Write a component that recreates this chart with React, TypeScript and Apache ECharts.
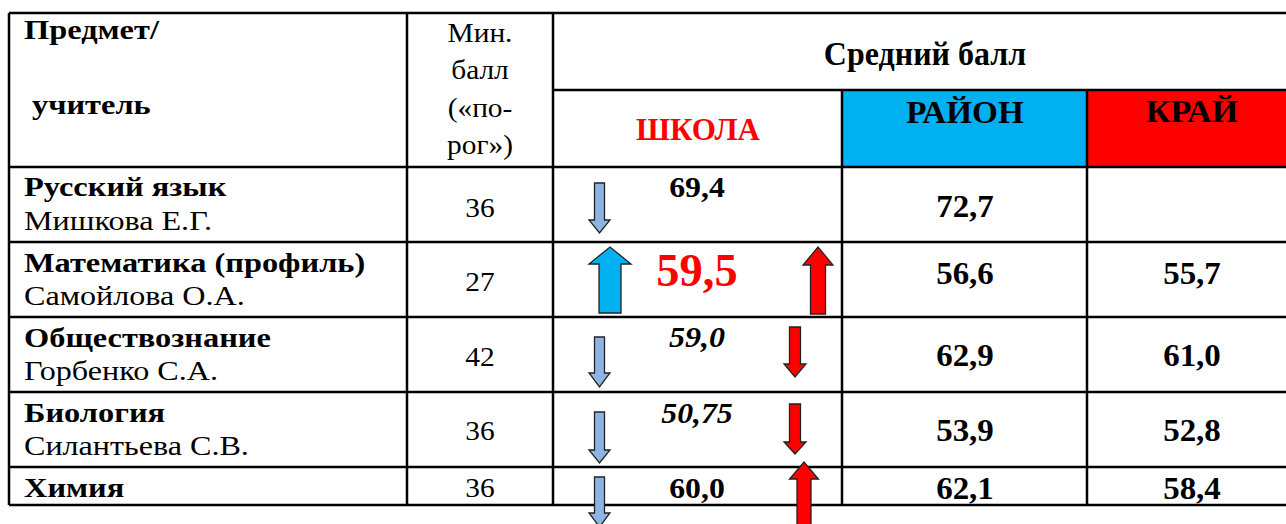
import React, { useEffect, useRef } from "react";
import * as echarts from "echarts";

// ---------- data ----------
const subjects = ["Русский язык", "Математика (профиль)", "Обществознание", "Биология", "Химия"];
const teachers = ["Мишкова Е.Г.", "Самойлова О.А.", "Горбенко С.А.", "Силантьева С.В.", ""];
const minScores = [36, 27, 42, 36, 36];
const schoolScores = [69.4, 59.5, 59.0, 50.75, 60.0];
const rayonScores = [72.7, 56.6, 62.9, 53.9, 62.1];
const kraiScores: (number | null)[] = [null, 55.7, 61.0, 52.8, 58.4];
const headerSubject = ["Предмет/", "учитель"];
const headerMin = ["Мин.", "балл", "(«по-", "рог»)"];
const headerAvg = "Средний балл";
const headerLevels = ["ШКОЛА", "РАЙОН", "КРАЙ"];

// ---------- layout ----------
const FONT = "Liberation Serif";
const colX = [9, 407, 553, 842, 1087, 1297];
const headTop = 13;
const headMid = 90;
const rowY = [167, 242, 317, 392, 467, 505];
const subjY = [186, 262, 337, 412, 487];
const teachY = [221, 296, 371, 446, 0];
const minY = [207, 281, 356, 430, 487];
const schoolY = [187, 271, 337, 413, 488];
const regionY = [206, 273, 355, 430, 488];
const schoolStyle = [
  { size: 30, bold: true, italic: false, fill: "#000", sx: 1.06 },
  { size: 46, bold: true, italic: false, fill: "#ff0000", sx: 1.01 },
  { size: 30, bold: true, italic: true, fill: "#000", sx: 1.07 },
  { size: 30, bold: true, italic: true, fill: "#000", sx: 1.06 },
  { size: 30, bold: true, italic: false, fill: "#000", sx: 1.06 },
];
// arrows vs район (left) : cx, tail, headBase, tip, shaftW, headW, fill
const rayonArrow = [
  { cx: 599.5, tail: 183, base: 220, tip: 233, sw: 10, hw: 21, fill: "#8eb4e3" },
  { cx: 610, tail: 313, base: 264, tip: 247, sw: 22, hw: 42, fill: "#00b0f0" },
  { cx: 599.5, tail: 337, base: 373, tip: 387, sw: 10, hw: 21, fill: "#8eb4e3" },
  { cx: 599.5, tail: 412, base: 450, tip: 463, sw: 10, hw: 21, fill: "#8eb4e3" },
  { cx: 599.5, tail: 477, base: 513, tip: 527, sw: 10, hw: 21, fill: "#8eb4e3" },
];
const kraiArrow = [
  null,
  { cx: 818, tail: 314, base: 265, tip: 247, sw: 15, hw: 30, fill: "#ff0000" },
  { cx: 795, tail: 327, base: 364, tip: 377, sw: 11, hw: 22, fill: "#ff0000" },
  { cx: 795, tail: 404, base: 442, tip: 454, sw: 11, hw: 22, fill: "#ff0000" },
  { cx: 804, tail: 545, base: 479, tip: 462, sw: 14, hw: 29, fill: "#ff0000" },
];

const fmt = (v: number) => (Math.round(v * 10) === v * 10 ? v.toFixed(1) : v.toFixed(2)).replace(".", ",");

function txt(text: string, x: number, y: number, o: any = {}) {
  const style: any = {
    text,
    fill: o.fill ?? "#000",
    fontFamily: FONT,
    fontSize: o.size ?? 27,
    align: o.align ?? "center",
    verticalAlign: "middle",
  };
  if (o.bold) style.fontWeight = "bold";
  if (o.italic) style.fontStyle = "italic";
  const el: any = { type: "text", x, y, z: 10, style };
  if (o.sx) el.scaleX = o.sx;
  return el;
}

function line(x1: number, y1: number, x2: number, y2: number) {
  return { type: "line", z: 5, silent: true, shape: { x1, y1, x2, y2 }, style: { stroke: "#000", lineWidth: 2.5 } };
}

function arrow(a: any) {
  const h = a.sw / 2;
  const H = a.hw / 2;
  const pts = [
    [a.cx - h, a.tail],
    [a.cx - h, a.base],
    [a.cx - H, a.base],
    [a.cx, a.tip],
    [a.cx + H, a.base],
    [a.cx + h, a.base],
    [a.cx + h, a.tail],
  ];
  return { type: "polygon", z: 8, silent: true, shape: { points: pts }, style: { fill: a.fill, stroke: "#222", lineWidth: 1.3 } };
}

export default function App() {
  const ref = useRef<HTMLDivElement>(null);
  useEffect(() => {
    document.body.style.margin = "0";
    const chart = echarts.init(ref.current!, null, { renderer: "svg" });
    const els: any[] = [];
    els.push({ type: "rect", z: 1, shape: { x: colX[3], y: headMid, width: colX[4] - colX[3], height: rowY[0] - headMid }, style: { fill: "#00b0f0" } });
    els.push({ type: "rect", z: 1, shape: { x: colX[4], y: headMid, width: colX[5] - colX[4], height: rowY[0] - headMid }, style: { fill: "#ff0000" } });
    const bottom = rowY[rowY.length - 1];
    els.push(line(colX[0], headTop, colX[5], headTop));
    els.push(line(colX[0], headTop, colX[0], bottom));
    els.push(line(colX[1], headTop, colX[1], bottom));
    els.push(line(colX[2], headTop, colX[2], bottom));
    els.push(line(colX[3], headMid, colX[3], bottom));
    els.push(line(colX[4], headMid, colX[4], bottom));
    els.push(line(colX[5], headTop, colX[5], bottom));
    els.push(line(colX[2], headMid, colX[5], headMid));
    rowY.forEach((y) => els.push(line(colX[0], y, colX[5], y)));
    els.push(txt(headerSubject[0], 24, 29, { bold: true, align: "left", sx: 1.2 }));
    els.push(txt(headerSubject[1], 32, 104, { bold: true, align: "left", sx: 1.2 }));
    const minHY = [32, 69, 107, 144];
    headerMin.forEach((t, i) => els.push(txt(t, 480, minHY[i], { size: 28, sx: 1.05 })));
    els.push(txt(headerAvg, 925, 54, { bold: true, size: 33, sx: 0.97 }));
    els.push(txt(headerLevels[0], 698, 129, { bold: true, size: 32, sx: 0.97, fill: "#ff0000" }));
    els.push(txt(headerLevels[1], 965, 112, { bold: true, size: 31, sx: 1.07 }));
    els.push(txt(headerLevels[2], 1192, 112, { bold: true, size: 31, sx: 1.1 }));
    subjects.forEach((s, i) => {
      els.push(txt(s, 24, subjY[i], { bold: true, align: "left", sx: 1.2 }));
      if (teachers[i]) els.push(txt(teachers[i], 24, teachY[i], { align: "left", sx: 1.19 }));
      els.push(txt(String(minScores[i]), 480, minY[i], { size: 28, sx: 1.05 }));
      els.push(txt(fmt(schoolScores[i]), 697, schoolY[i], schoolStyle[i]));
      els.push(txt(fmt(rayonScores[i]), 965, regionY[i], { bold: true, size: 32, sx: 1.03 }));
      const k = kraiScores[i];
      if (k != null) els.push(txt(fmt(k), 1192, regionY[i], { bold: true, size: 32, sx: 1.03 }));
      const ra = rayonArrow[i];
      const up = schoolScores[i] > rayonScores[i];
      if (ra && (up ? ra.tip < ra.tail : ra.tip > ra.tail)) els.push(arrow(ra));
      const ka = kraiArrow[i];
      if (ka && k != null) {
        const up2 = schoolScores[i] > k;
        if (up2 ? ka.tip < ka.tail : ka.tip > ka.tail) els.push(arrow(ka));
      }
    });
    chart.setOption({ animation: false, graphic: { elements: els } });
    return () => chart.dispose();
  }, []);
  return <div ref={ref} style={{ width: 1286, height: 524, background: "#fff" }} />;
}
